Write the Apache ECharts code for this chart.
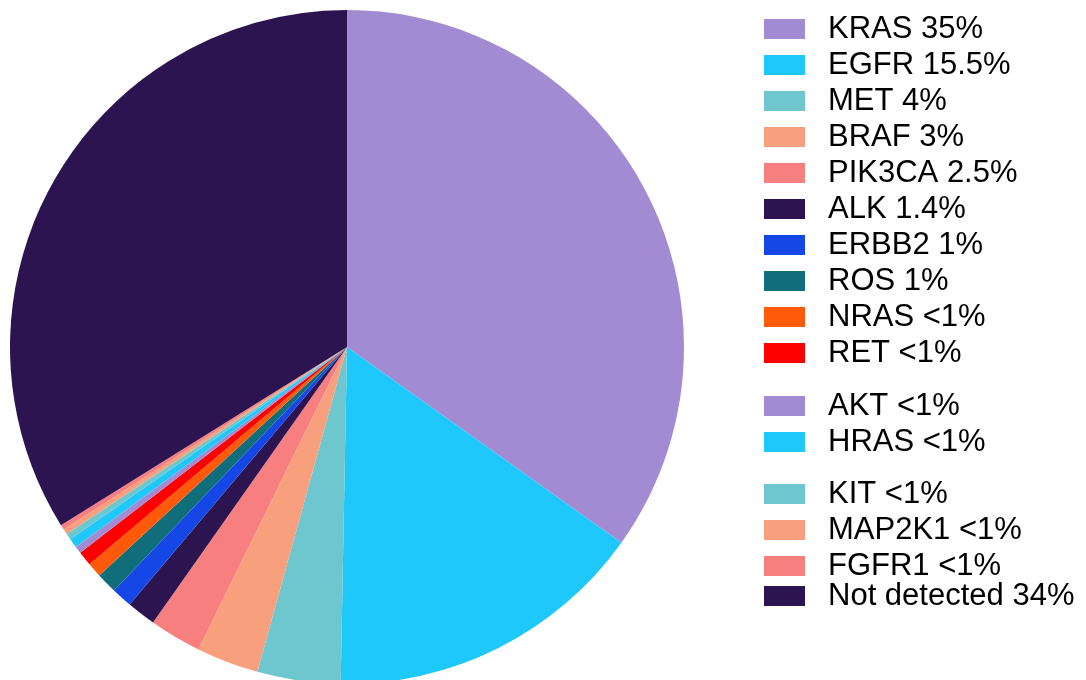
<!DOCTYPE html>
<html>
<head>
    <meta charset="utf-8">
    <title>Pie</title>
    <script src="https://cdn.jsdelivr.net/npm/echarts@6/dist/echarts.min.js" type="text/javascript" charset="utf-8"></script>
</head>
<body style="margin:0;background:#fff;">
<div id="div01" style="width: 1086px;height: 680px;"></div>
</body>
<script type="text/javascript">

    // 数据
    var genes = ['KRAS', 'EGFR', 'MET', 'BRAF', 'PIK3CA', 'ALK', 'ERBB2', 'ROS', 'NRAS', 'RET',
        'AKT', 'HRAS', 'KIT', 'MAP2K1', 'FGFR1', 'Not detected'];
    var shares = [35, 15.5, 4, 3, 2.5, 1.4, 1, 1, 0.7, 0.7, 0.35, 0.45, 0.3, 0.25, 0.25, 34];
    var shareLabels = ['35%', '15.5%', '4%', '3%', '2.5%', '1.4%', '1%', '1%', '<1%', '<1%',
        '<1%', '<1%', '<1%', '<1%', '<1%', '34%'];
    var colors = ['#a38bd4', '#1ec8fa', '#6ec6cf', '#f8a07e', '#f77f80', '#2b1450', '#1447e6', '#0f6e7a',
        '#ff5a0a', '#ff0000', '#a38bd4', '#1ec8fa', '#6ec6cf', '#f8a07e', '#f77f80', '#2b1450'];

    // 图例分组 (起始索引, 结束索引, top)
    var legendGroups = [[0, 10, 11], [10, 12, 388], [12, 15, 476], [15, 16, 578]];

    var myChart = echarts.init(document.getElementById("div01"));

    var pieData = genes.map(function (g, i) {
        return {name: g, value: shares[i], itemStyle: {color: colors[i]}};
    });

    var legends = legendGroups.map(function (grp) {
        return {
            orient: 'vertical',
            left: 764,
            top: grp[2],
            padding: 0,
            itemGap: 0,
            itemWidth: 41,
            itemHeight: 20,
            icon: 'rect',
            selectedMode: false,
            data: genes.slice(grp[0], grp[1]),
            formatter: function (name) {
                return name + ' ' + shareLabels[genes.indexOf(name)];
            },
            textStyle: {
                fontFamily: 'Liberation Sans, Arial, sans-serif',
                fontSize: 31,
                color: '#000',
                lineHeight: 36,
                padding: [0, 0, 0, 18]
            }
        };
    });

    myChart.setOption({
        animation: false,
        legend: legends,
        series: [{
            type: 'pie',
            center: [347, 347],
            radius: 337,
            startAngle: 90,
            clockwise: true,
            avoidLabelOverlap: false,
            label: {show: false},
            labelLine: {show: false},
            emphasis: {disabled: true},
            itemStyle: {borderWidth: 0},
            data: pieData
        }]
    });
</script>
</html>
